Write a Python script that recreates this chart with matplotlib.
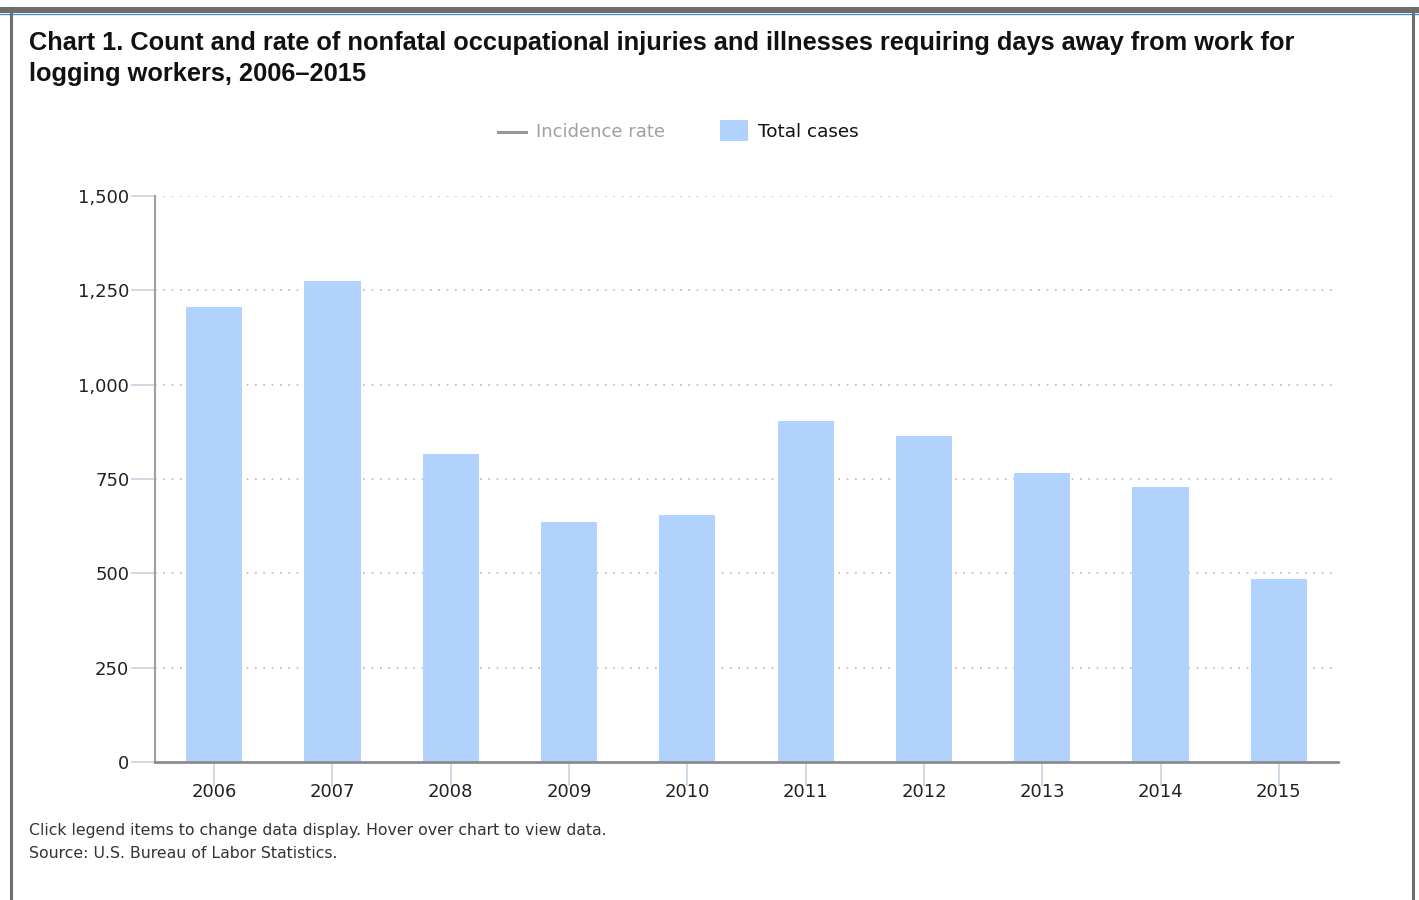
import matplotlib
matplotlib.use("Agg")
import matplotlib.pyplot as plt
from matplotlib.lines import Line2D
from matplotlib.patches import Rectangle

years = ["2006", "2007", "2008", "2009", "2010", "2011", "2012", "2013", "2014", "2015"]
total_cases = [1205, 1275, 815, 635, 655, 905, 865, 765, 730, 485]
y_ticks = [0, 250, 500, 750, 1000, 1250, 1500]

W, H = 1419, 900
fig = plt.figure(figsize=(W / 100, H / 100), dpi=100)
fig.patch.set_facecolor("white")

# frame
fig.add_artist(Rectangle((0, 1 - 13 / H), 1, 6 / H, transform=fig.transFigure,
                         facecolor="#6d6d6d", edgecolor="none"))
fig.add_artist(Line2D([0, 1], [1 - 14 / H] * 2, transform=fig.transFigure, color="#4a8fd6", lw=1))
fig.add_artist(Line2D([11 / W] * 2, [0, 1 - 8 / H], transform=fig.transFigure, color="#6d6d6d", lw=2.2))
fig.add_artist(Line2D([1413 / W] * 2, [0, 1 - 8 / H], transform=fig.transFigure, color="#6d6d6d", lw=2.2))

fig.text(29 / W, 1 - 43 / H, "Chart 1. Count and rate of nonfatal occupational injuries and illnesses requiring days away from work for",
         fontsize=18.3, fontweight="bold", family="Liberation Sans", va="center", ha="left", color="#111111")
fig.text(29 / W, 1 - 74 / H, "logging workers, 2006\u20132015",
         fontsize=18.3, fontweight="bold", family="Liberation Sans", va="center", ha="left", color="#111111")

ax = fig.add_axes([155 / W, 1 - 762 / H, (1338 - 155) / W, (762 - 196) / H])
x = list(range(len(years)))
ax.bar(x, total_cases, width=0.475, color="#b0d2fd", zorder=2)
ax.set_xlim(-0.5, len(years) - 0.5)
ax.set_ylim(0, 1500)
ax.set_yticks(y_ticks)
ax.set_yticklabels([f"{v:,}" for v in y_ticks])
ax.set_xticks(x)
ax.set_xticklabels(years)
for s in ["top", "right"]:
    ax.spines[s].set_visible(False)
ax.spines["left"].set_color("#a0a0a0")
ax.spines["left"].set_linewidth(1.5)
ax.spines["bottom"].set_color("#8c8c8c")
ax.spines["bottom"].set_linewidth(2)
ax.tick_params(axis="y", length=17, width=1.2, color="#c8d4e2", pad=1.5, labelsize=13, labelcolor="#222222")
ax.tick_params(axis="x", length=17, width=1.2, color="#c8d4e2", pad=-2, labelsize=13, labelcolor="#222222")
ax.yaxis.grid(True, linestyle=(0, (1, 4)), color="#bbbbbb", lw=1.2, zorder=0)
ax.set_axisbelow(True)

# legend
fig.add_artist(Line2D([498 / W, 526 / W], [1 - 132 / H] * 2, transform=fig.transFigure, color="#999999", lw=2.2))
fig.text(536 / W, 1 - 132 / H, "Incidence rate", fontsize=13, color="#a0a0a0", va="center", ha="left")
fig.add_artist(Rectangle((720 / W, 1 - 141 / H), 28 / W, 21 / H, transform=fig.transFigure,
                         facecolor="#b0d2fd", edgecolor="none"))
fig.text(758 / W, 1 - 132 / H, "Total cases", fontsize=13.2, color="#111111", va="center", ha="left")

fig.text(29 / W, 1 - 831 / H, "Click legend items to change data display. Hover over chart to view data.",
         fontsize=11.3, color="#333333", va="center", ha="left")
fig.text(29 / W, 1 - 853 / H, "Source: U.S. Bureau of Labor Statistics.",
         fontsize=11.3, color="#333333", va="center", ha="left")

fig.savefig("out.png", dpi=100, facecolor="white")
